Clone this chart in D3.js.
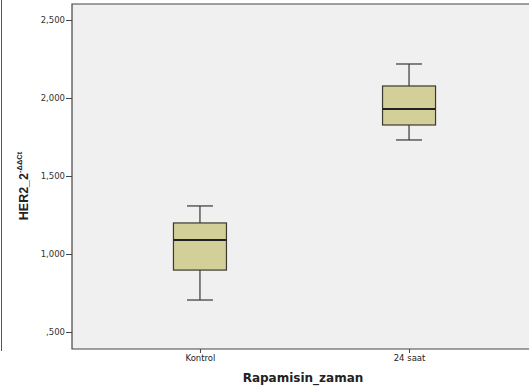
<!DOCTYPE html>
<html>
<head>
<meta charset="utf-8">
<script src="https://cdn.jsdelivr.net/npm/d3@7"></script>
<style>
  body { margin: 0; background: #fff; overflow: hidden; }
  svg { display: block; }
</style>
</head>
<body>
<div id="chart"></div>
<script>
// Box plot data
const groups = ['Kontrol', '24 saat'];
const whiskerLow = [705, 1731];
const q1 = [897, 1827];
const medians = [1090, 1929];
const q3 = [1199, 2077];
const whiskerHigh = [1308, 2218];
const yTicks = [500, 1000, 1500, 2000, 2500];

const width = 529, height = 392;
const plot = { left: 72, right: 537, top: 4, bottom: 349 };

const svg = d3.select('#chart')
  .append('svg')
  .attr('width', width)
  .attr('height', height);

const x = d3.scalePoint()
  .domain(groups)
  .range([plot.left, plot.right])
  .padding(0.612);

const y = d3.scaleLinear()
  .domain([500, 2500])
  .range([332, 20]);

// outer frame line on the left
svg.append('line')
  .attr('x1', 1.5).attr('x2', 1.5)
  .attr('y1', 0).attr('y2', 351)
  .attr('stroke', '#555').attr('stroke-width', 1);

// plot background (right edge runs off the picture, so no right border)
svg.append('rect')
  .attr('x', plot.left).attr('y', plot.top)
  .attr('width', width - plot.left)
  .attr('height', plot.bottom - plot.top)
  .attr('fill', '#f0f0f0');
svg.append('path')
  .attr('d', `M${width},${plot.top}H${plot.left}V${plot.bottom}H${width}`)
  .attr('fill', 'none')
  .attr('stroke', '#444')
  .attr('stroke-width', 1.2);

const fmt = v => v < 1000 ? ',' + v : d3.format(',')(v);

// y axis
const yAxis = svg.append('g')
  .attr('transform', `translate(${plot.left},0)`)
  .call(d3.axisLeft(y).tickValues(yTicks).tickSize(6).tickPadding(1).tickFormat(fmt));
yAxis.select('.domain').remove();
yAxis.selectAll('line').attr('stroke', '#444');
yAxis.selectAll('text')
  .attr('font-family', 'DejaVu Sans, sans-serif')
  .attr('font-size', 8.5)
  .attr('fill', '#333');

// x axis
const xAxis = svg.append('g')
  .attr('transform', `translate(0,${plot.bottom})`)
  .call(d3.axisBottom(x).tickSize(4).tickPadding(2));
xAxis.select('.domain').remove();
xAxis.selectAll('line').attr('stroke', '#444');
xAxis.selectAll('text')
  .attr('font-family', 'DejaVu Sans, sans-serif')
  .attr('font-size', 8.5)
  .attr('fill', '#222');

// boxes
const boxW = 53, capW = 26;
const rows = groups.map((g, i) => ({
  g, lo: whiskerLow[i], q1: q1[i], med: medians[i], q3: q3[i], hi: whiskerHigh[i]
}));

const box = svg.append('g').selectAll('g')
  .data(rows)
  .join('g');

// whiskers
box.append('line')
  .attr('x1', d => x(d.g)).attr('x2', d => x(d.g))
  .attr('y1', d => y(d.hi)).attr('y2', d => y(d.q3))
  .attr('stroke', '#444').attr('stroke-width', 1.3);
box.append('line')
  .attr('x1', d => x(d.g)).attr('x2', d => x(d.g))
  .attr('y1', d => y(d.q1)).attr('y2', d => y(d.lo))
  .attr('stroke', '#444').attr('stroke-width', 1.3);
box.selectAll('.cap')
  .data(d => [d.lo, d.hi].map(v => ({ g: d.g, v })))
  .join('line')
  .attr('class', 'cap')
  .attr('x1', d => x(d.g) - capW / 2).attr('x2', d => x(d.g) + capW / 2)
  .attr('y1', d => y(d.v)).attr('y2', d => y(d.v))
  .attr('stroke', '#444').attr('stroke-width', 1.3);

box.append('rect')
  .attr('x', d => x(d.g) - boxW / 2)
  .attr('y', d => y(d.q3))
  .attr('width', boxW)
  .attr('height', d => y(d.q1) - y(d.q3))
  .attr('fill', '#d3cf98')
  .attr('stroke', '#3a3a30')
  .attr('stroke-width', 1.2);

box.append('line')
  .attr('x1', d => x(d.g) - boxW / 2).attr('x2', d => x(d.g) + boxW / 2)
  .attr('y1', d => y(d.med)).attr('y2', d => y(d.med))
  .attr('stroke', '#222').attr('stroke-width', 2);

// axis titles
svg.append('text')
  .attr('x', 303).attr('y', 382)
  .attr('text-anchor', 'middle')
  .attr('font-family', 'DejaVu Sans, sans-serif')
  .attr('font-weight', 'bold')
  .attr('font-size', 12)
  .attr('fill', '#222')
  .text('Rapamisin_zaman');

const yt = svg.append('text')
  .attr('transform', 'translate(28,186) rotate(-90)')
  .attr('text-anchor', 'middle')
  .attr('font-family', 'Liberation Sans, Arial, sans-serif')
  .attr('font-weight', 'bold')
  .attr('font-size', 12.5)
  .attr('fill', '#222');
yt.append('tspan').text('HER2_2');
yt.append('tspan')
  .attr('dy', -6)
  .attr('font-size', 7.5)
  .text('-ΔΔCt');
</script>
</body>
</html>
